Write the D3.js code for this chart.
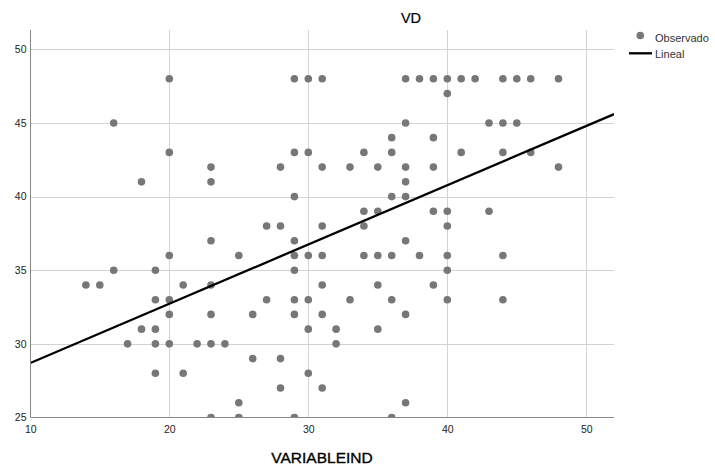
<!DOCTYPE html>
<html><head><meta charset="utf-8">
<script src="https://cdn.jsdelivr.net/npm/d3@7"></script>
<style>body{margin:0;background:#fff}svg{display:block;font-family:"Liberation Sans",Arial,sans-serif}</style>
</head><body><svg id="c" width="715" height="465"></svg>
<script>
// Observed points (VARIABLEIND, VD)
const obsX = [20,29,30,31,37,38,39,40,41,42,44,45,46,48, 40, 16,37,43,44,45, 36,39,
  20,29,30,34,36,41,44,46, 23,28,31,33,35,37,39,48, 18,23,37, 29,36,37, 34,35,39,40,43,
  27,28,31,34,40, 23,29,37, 20,25,29,30,31,34,35,36,38,40,44, 16,19,29,40,
  14,15,21,23,31,35,39, 19,20,27,29,30,33,36,40,44, 20,23,26,29,31,37,
  18,19,30,32,35, 17,19,20,22,23,24,32, 26,28, 19,21,30, 28,31, 25,37, 23,25,29,36];
const obsY = [48,48,48,48,48,48,48,48,48,48,48,48,48,48, 47, 45,45,45,45,45, 44,44,
  43,43,43,43,43,43,43,43, 42,42,42,42,42,42,42,42, 41,41,41, 40,40,40, 39,39,39,39,39,
  38,38,38,38,38, 37,37,37, 36,36,36,36,36,36,36,36,36,36,36, 35,35,35,35,
  34,34,34,34,34,34,34, 33,33,33,33,33,33,33,33,33, 32,32,32,32,32,32,
  31,31,31,31,31, 30,30,30,30,30,30,30, 29,29, 28,28,28, 27,27, 26,26, 25,25,25,25];
// Linear fit line endpoints
const fitX = [10, 52];
const fitY = [28.7, 45.6];
const xTicks = [10, 20, 30, 40, 50];
const yTicks = [25, 30, 35, 40, 45, 50];
const title = "VD";
const xLabel = "VARIABLEIND";
const legendLabels = ["Observado", "Lineal"];

const svg = d3.select("#c");
const L = 30.3, R = 614, T = 30, B = 417;
const x = d3.scaleLinear().domain([10, 52]).range([L, L + 42 * 13.9]);
const y = d3.scaleLinear().domain([25, 50]).range([417.5, 49.3]);

svg.append("defs").append("clipPath").attr("id", "clip")
  .append("rect").attr("x", L).attr("y", T).attr("width", R - L).attr("height", B - T);

// gridlines
const grid = svg.append("g");
grid.selectAll(".hy").data(yTicks.filter(d => d > 25)).join("line")
  .attr("x1", L).attr("x2", R).attr("y1", d => Math.round(y(d)) + 0.5).attr("y2", d => Math.round(y(d)) + 0.5)
  .attr("stroke", "#d3d3d3").attr("stroke-width", 1);
grid.selectAll(".vx").data(xTicks.filter(d => d > 10)).join("line")
  .attr("y1", T).attr("y2", B).attr("x1", d => Math.round(x(d)) + 0.5).attr("x2", d => Math.round(x(d)) + 0.5)
  .attr("stroke", "#d3d3d3").attr("stroke-width", 1);

// points
const pg = svg.append("g").attr("clip-path", "url(#clip)");
pg.selectAll("circle").data(obsX.map((d, i) => [d, obsY[i]])).join("circle")
  .attr("cx", d => x(d[0])).attr("cy", d => y(d[1])).attr("r", 3.8).attr("fill", "#777777");

// fit line
pg.append("line")
  .attr("x1", x(fitX[0])).attr("y1", y(fitY[0])).attr("x2", x(fitX[1])).attr("y2", y(fitY[1]))
  .attr("stroke", "#000").attr("stroke-width", 2.3);

// axes
const xAxis = svg.append("g").attr("transform", `translate(0,${B + 0.5})`)
  .call(d3.axisBottom(x).tickValues(xTicks).tickSize(0).tickPadding(8).tickFormat(d3.format("d")));
xAxis.select(".domain").attr("d", `M${L},0H${R}`).attr("stroke", "#888");
xAxis.selectAll("text").attr("font-size", "10.5px").attr("fill", "#222").attr("font-family", "Liberation Sans, Arial, sans-serif");

const yAxis = svg.append("g").attr("transform", `translate(${Math.round(L) + 0.5},0)`)
  .call(d3.axisLeft(y).tickValues(yTicks).tickSize(0).tickPadding(4).tickFormat(d3.format("d")));
yAxis.select(".domain").attr("d", `M0,${T}V${B}`).attr("stroke", "#888");
yAxis.selectAll("text").attr("font-size", "10.5px").attr("fill", "#222").attr("font-family", "Liberation Sans, Arial, sans-serif");

// title & label
svg.append("text").attr("x", 411).attr("y", 23).attr("text-anchor", "middle")
  .attr("font-size", "14.5px").attr("fill", "#000").attr("stroke", "#000").attr("stroke-width", 0.2).text(title);
svg.append("text").attr("x", 322).attr("y", 462.5).attr("text-anchor", "middle")
  .attr("font-size", "15.5px").attr("fill", "#000").attr("stroke", "#000").attr("stroke-width", 0.35).text(xLabel);

// legend
const lg = svg.append("g");
lg.append("circle").attr("cx", 640.3).attr("cy", 35.5).attr("r", 3.8).attr("fill", "#777777");
lg.append("text").attr("x", 655).attr("y", 41.5).attr("font-size", "11px").attr("fill", "#333").text(legendLabels[0]);
lg.append("line").attr("x1", 629).attr("x2", 652).attr("y1", 53.3).attr("y2", 53.3).attr("stroke", "#000").attr("stroke-width", 2.3);
lg.append("text").attr("x", 655).attr("y", 58).attr("font-size", "11px").attr("fill", "#333").text(legendLabels[1]);
</script></body></html>
